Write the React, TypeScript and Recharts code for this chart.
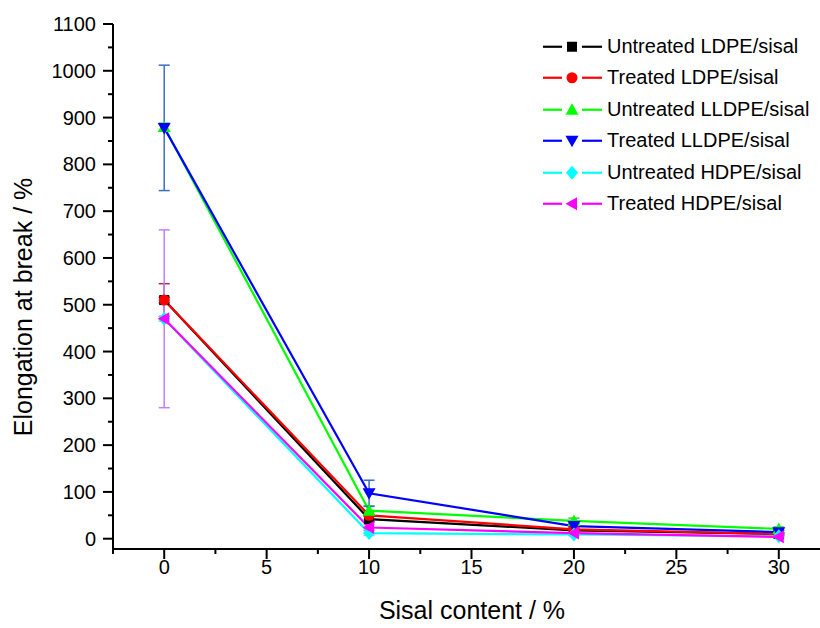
import { ComposedChart, Line, XAxis, YAxis, ErrorBar, Legend } from 'recharts';

const sisalContent = [0, 10, 20, 30];

const untreatedLDPE = [510, 42, 18, 10];
const untreatedLDPEErr = [6, 6, 4, 3];
const treatedLDPE = [510, 50, 20, 10];
const treatedLDPEErr = [35, 10, 5, 3];
const untreatedLLDPE = [880, 60, 38, 21];
const untreatedLLDPEErr = [8, 10, 6, 4];
const treatedLLDPE = [878, 97, 27, 14];
const treatedLLDPEErr = [134, 28, 6, 4];
const untreatedHDPE = [470, 12, 9, 5];
const untreatedHDPEErr = [5, 5, 3, 2];
const treatedHDPE = [470, 24, 12, 4];
const treatedHDPEErr = [190, 6, 4, 3];

const xTicks = [-2.5, 0, 2.5, 5, 7.5, 10, 12.5, 15, 17.5, 20, 22.5, 25, 27.5, 30, 32.5];
const yTicks = [
  0, 50, 100, 150, 200, 250, 300, 350, 400, 450, 500, 550,
  600, 650, 700, 750, 800, 850, 900, 950, 1000, 1050, 1100,
];

const series = [
  { key: 'uLDPE', name: 'Untreated LDPE/sisal', values: untreatedLDPE, errors: untreatedLDPEErr, color: '#000000', errColor: '#333333', shape: 'square' },
  { key: 'tLDPE', name: 'Treated LDPE/sisal', values: treatedLDPE, errors: treatedLDPEErr, color: '#ff0000', errColor: '#b03030', shape: 'circle' },
  { key: 'uLLDPE', name: 'Untreated LLDPE/sisal', values: untreatedLLDPE, errors: untreatedLLDPEErr, color: '#00ff00', errColor: '#40c040', shape: 'up' },
  { key: 'tLLDPE', name: 'Treated LLDPE/sisal', values: treatedLLDPE, errors: treatedLLDPEErr, color: '#0000ff', errColor: '#3a6fc0', shape: 'down' },
  { key: 'uHDPE', name: 'Untreated HDPE/sisal', values: untreatedHDPE, errors: untreatedHDPEErr, color: '#00ffff', errColor: '#60d8f0', shape: 'diamond' },
  { key: 'tHDPE', name: 'Treated HDPE/sisal', values: treatedHDPE, errors: treatedHDPEErr, color: '#ff00ff', errColor: '#c080ff', shape: 'left' },
];

const data = sisalContent.map((x, i) => {
  const row: Record<string, number> = { x };
  series.forEach((s) => {
    row[s.key] = s.values[i];
    row[s.key + 'Err'] = s.errors[i];
  });
  return row;
});

const FONT = '"Liberation Sans", Arial, sans-serif';

function Marker({ shape, cx, cy, color }: { shape: string; cx: number; cy: number; color: string }) {
  switch (shape) {
    case 'square':
      return <rect x={cx - 5} y={cy - 5} width={10} height={10} fill={color} />;
    case 'circle':
      return <circle cx={cx} cy={cy} r={5.5} fill={color} />;
    case 'up':
      return <polygon points={`${cx},${cy - 6.5} ${cx + 6.5},${cy + 5} ${cx - 6.5},${cy + 5}`} fill={color} />;
    case 'down':
      return <polygon points={`${cx - 6.5},${cy - 5} ${cx + 6.5},${cy - 5} ${cx},${cy + 6.5}`} fill={color} />;
    case 'diamond':
      return <polygon points={`${cx},${cy - 7} ${cx + 6},${cy} ${cx},${cy + 7} ${cx - 6},${cy}`} fill={color} />;
    default:
      return <polygon points={`${cx - 6.5},${cy} ${cx + 5},${cy - 6.5} ${cx + 5},${cy + 6.5}`} fill={color} />;
  }
}

function XTick(props: any) {
  const { x, y, payload } = props;
  const major = payload.value % 5 === 0;
  return (
    <g>
      <line x1={x} y1={y} x2={x} y2={y + (major ? 10 : 5)} stroke="#000" strokeWidth={2} />
      {major && (
        <text x={x} y={y + 25} textAnchor="middle" fontSize={20} fontFamily={FONT} fill="#000">
          {payload.value}
        </text>
      )}
    </g>
  );
}

function TopTick(props: any) {
  const { x, y } = props;
  return <line x1={x} y1={y} x2={x} y2={y + 3} stroke="#000" strokeWidth={1.5} />;
}

function YTick(props: any) {
  const { x, y, payload } = props;
  const major = payload.value % 100 === 0;
  return (
    <g>
      <line x1={x - (major ? 10 : 5)} y1={y} x2={x} y2={y} stroke="#000" strokeWidth={2} />
      {major && (
        <text x={x - 17} y={y + 7} textAnchor="end" fontSize={20} fontFamily={FONT} fill="#000">
          {payload.value}
        </text>
      )}
    </g>
  );
}

function LegendBox() {
  return (
    <div style={{ fontFamily: FONT, fontSize: 20, color: '#000' }}>
      {series.map((s) => (
        <div key={s.key} style={{ display: 'flex', alignItems: 'center', height: 31.5 }}>
          <svg width={66} height={31.5}>
            <line x1={2} y1={15.75} x2={21} y2={15.75} stroke={s.color} strokeWidth={2.2} />
            <line x1={41} y1={15.75} x2={61} y2={15.75} stroke={s.color} strokeWidth={2.2} />
            <Marker shape={s.shape} cx={31} cy={15.75} color={s.color} />
          </svg>
          <span style={{ whiteSpace: 'nowrap' }}>{s.name}</span>
        </div>
      ))}
    </div>
  );
}

export default function App() {
  return (
    <div style={{ position: 'absolute', left: 0, top: 0, width: 820, height: 628, overflow: 'hidden', background: '#fff' }}>
      <ComposedChart width={840} height={628} data={data} margin={{ top: 24, right: 10, bottom: 0, left: 0 }}>
        <XAxis
          dataKey="x"
          type="number"
          domain={[-2.5, 32.5]}
          ticks={xTicks}
          interval={0}
          tickSize={0}
          tickMargin={0}
          tickLine={false}
          tick={(p: any) => <XTick {...p} />}
          height={79}
          axisLine={{ stroke: '#000', strokeWidth: 2 }}
          allowDataOverflow
          label={{
            content: () => (
              <text x={472} y={619} textAnchor="middle" fontSize={25} fontFamily={FONT} fill="#000">
                Sisal content / %
              </text>
            ),
          }}
        />
        <XAxis
          xAxisId="top"
          orientation="top"
          type="number"
          domain={[-2.5, 32.5]}
          ticks={xTicks}
          interval={0}
          tickSize={0}
          tickMargin={0}
          tickLine={false}
          tick={(p: any) => <TopTick {...p} />}
          height={0}
          axisLine={{ stroke: '#000', strokeWidth: 2 }}
          allowDataOverflow
        />
        <YAxis
          type="number"
          domain={[-22, 1100]}
          ticks={yTicks}
          interval={0}
          tickSize={0}
          tickMargin={0}
          tickLine={false}
          tick={(p: any) => <YTick {...p} />}
          width={113}
          axisLine={{ stroke: '#000', strokeWidth: 2 }}
          allowDataOverflow
          label={{
            content: () => (
              <text
                x={32}
                y={307}
                transform="rotate(-90, 32, 307)"
                textAnchor="middle"
                fontSize={25}
                fontFamily={FONT}
                fill="#000"
              >
                Elongation at break / %
              </text>
            ),
          }}
        />
        <Legend
          layout="vertical"
          align="center"
          verticalAlign="middle"
          wrapperStyle={{ position: 'absolute', left: 541, top: 30.5, width: 'auto' }}
          content={() => <LegendBox />}
        />
        {series.map((s) => (
          <Line
            key={s.key}
            dataKey={s.key}
            name={s.name}
            type="linear"
            stroke={s.color}
            strokeWidth={2.2}
            isAnimationActive={false}
            activeDot={false}
            dot={(p: any) => (
              <Marker key={`${s.key}-${p.index}`} shape={s.shape} cx={p.cx} cy={p.cy} color={s.color} />
            )}
          >
            <ErrorBar
              dataKey={s.key + 'Err'}
              direction="y"
              width={5.5}
              strokeWidth={1.5}
              stroke={s.errColor}
              isAnimationActive={false}
            />
          </Line>
        ))}
      </ComposedChart>
    </div>
  );
}
